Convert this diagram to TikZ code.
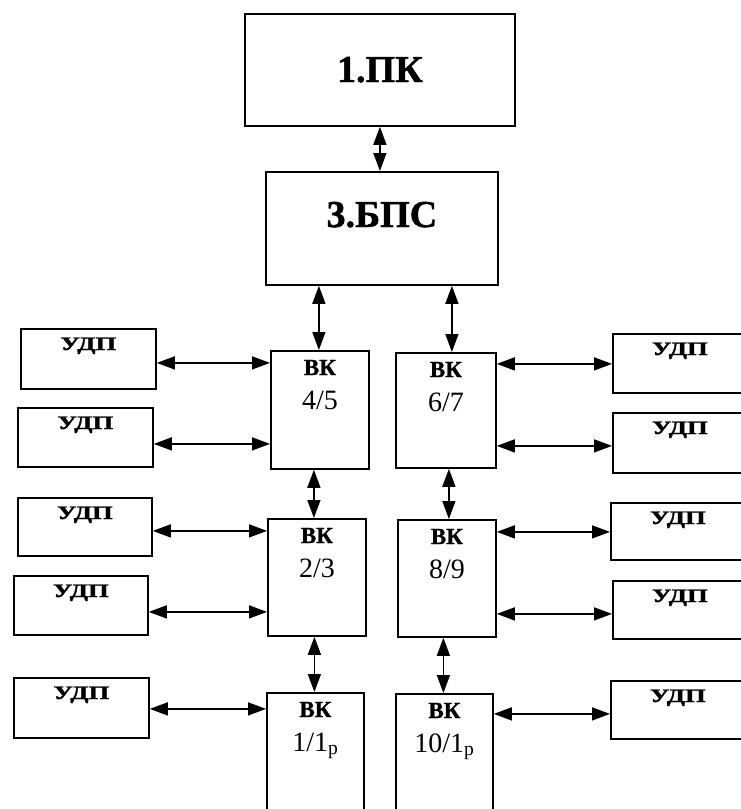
\documentclass[tikz,border=0pt]{standalone}
\usepackage{fontspec}
\setmainfont{Liberation Serif}[BoldFeatures={FakeBold=1.2}]
\usepackage{graphicx}
\usetikzlibrary{arrows.meta}

\begin{document}
\begin{tikzpicture}[x=1pt,y=-1pt,
  box/.style={draw, line width=1.8pt, inner sep=0pt, anchor=north west},
  conn/.style={line width=1.5pt,
    {Triangle[length=18pt,width=13pt]}-{Triangle[length=18pt,width=13pt]}},
  bigtxt/.style={font=\fontsize{38}{38}\selectfont\bfseries, anchor=base, inner sep=0pt},
  udptxt/.style={font=\fontsize{19}{19}\selectfont\bfseries, anchor=base, inner sep=0pt},
  vktxt/.style={font=\fontsize{23}{23}\selectfont\bfseries, anchor=base, inner sep=0pt},
  numtxt/.style={font=\fontsize{28}{28}\selectfont, anchor=base, inner sep=0pt},
]
\useasboundingbox (0,0) rectangle (740,809);

% main blocks
\node[box, minimum width=270pt, minimum height=112pt] (pk)  at (244,13)  {};
\node[box, minimum width=232pt, minimum height=113pt] (bps) at (265,171) {};
\node[bigtxt] (pkt)  at ([yshift=-69pt]pk.north)  {1.ПК};
\node[bigtxt] (bpst) at ([yshift=-56pt]bps.north) {3.БПС};

% ВК blocks
\node[box, minimum width=98pt, minimum height=118pt] (vk45) at (270,350) {};
\node[box, minimum width=100pt, minimum height=115pt] (vk67) at (395,352) {};
\node[box, minimum width=98pt, minimum height=117pt] (vk23) at (267,518) {};
\node[box, minimum width=98pt, minimum height=117pt] (vk89) at (397,519) {};
\node[box, minimum width=97pt, minimum height=140pt] (vk1)  at (266,692) {};
\node[box, minimum width=97pt, minimum height=140pt] (vk10) at (395,693) {};

\foreach \v/\n in {vk45/4\slash 5, vk67/6\slash 7, vk23/2\slash 3, vk89/8\slash 9,
                   vk1/1\slash 1\textsubscript{р}, vk10/10\slash 1\textsubscript{р}} {
  \node[vktxt]  (\v t) at ([yshift=-25pt]\v.north) {ВК};
  \node[numtxt] (\v n) at ([yshift=-59pt]\v.north) {\n};
}

% УДП blocks, left column
\node[box, minimum width=135pt, minimum height=60pt] (u1) at (20,328) {};
\node[box, minimum width=135pt, minimum height=59pt] (u2) at (17,407) {};
\node[box, minimum width=134pt, minimum height=58pt] (u3) at (17,497) {};
\node[box, minimum width=134pt, minimum height=59pt] (u4) at (13,575) {};
\node[box, minimum width=135pt, minimum height=60pt] (u5) at (13,677) {};
% УДП blocks, right column
\node[box, minimum width=134pt, minimum height=59pt] (r1) at (612,333) {};
\node[box, minimum width=134pt, minimum height=60pt] (r2) at (612,412) {};
\node[box, minimum width=134pt, minimum height=57pt] (r3) at (610,502) {};
\node[box, minimum width=134pt, minimum height=58pt] (r4) at (612,580) {};
\node[box, minimum width=134pt, minimum height=58pt] (r5) at (610,680) {};

\foreach \u in {u1,u2,u3,u4,u5,r1,r2,r3,r4,r5}
  \node[udptxt] (\u t) at ([yshift=-22pt]\u.north) {\scalebox{1.4}[1]{УДП}};

% vertical links
\draw[conn] (pk.south) -- (pk.south |- bps.north);
\coordinate (c45) at ([xshift=-1pt]vk45.north);
\coordinate (c67) at ([xshift=6pt]vk67.north);
\draw[conn] (c45 |- bps.south) -- (c45);
\draw[conn] (c67 |- bps.south) -- (c67);
\coordinate (c23) at ([xshift=-3pt]vk23.north);
\coordinate (c89) at ([xshift=2pt]vk89.north);
\draw[conn] (c23 |- vk45.south) -- (c23);
\draw[conn] (c89 |- vk67.south) -- (c89);
\coordinate (c1)  at ([xshift=-1pt]vk1.north);
\coordinate (c10) at ([xshift=-1pt]vk10.north);
\draw[conn] (c1 |- vk23.south) -- (c1);
\draw[conn] (c10 |- vk89.south) -- (c10);

% horizontal links, left
\coordinate (h1) at ([yshift=-4pt]u1.east);
\coordinate (h2) at ([yshift=-6.5pt]u2.east);
\coordinate (h3) at ([yshift=-4pt]u3.east);
\coordinate (h4) at ([yshift=-6.5pt]u4.east);
\coordinate (h5) at ([yshift=-1pt]u5.east);
\draw[conn] (h1) -- (h1 -| vk45.west);
\draw[conn] (h2) -- (h2 -| vk45.west);
\draw[conn] (h3) -- (h3 -| vk23.west);
\draw[conn] (h4) -- (h4 -| vk23.west);
\draw[conn] (h5) -- (h5 -| vk1.west);

% horizontal links, right
\coordinate (g1) at ([yshift=-0.5pt]r1.west);
\coordinate (g2) at ([yshift=-3pt]r2.west);
\coordinate (g3) at ([yshift=-0.5pt]r3.west);
\coordinate (g4) at ([yshift=-4pt]r4.west);
\coordinate (g5) at ([yshift=-4pt]r5.west);
\draw[conn] (g1 -| vk67.east) -- (g1);
\draw[conn] (g2 -| vk67.east) -- (g2);
\draw[conn] (g3 -| vk89.east) -- (g3);
\draw[conn] (g4 -| vk89.east) -- (g4);
\draw[conn] (g5 -| vk10.east) -- (g5);
\end{tikzpicture}
\end{document}
